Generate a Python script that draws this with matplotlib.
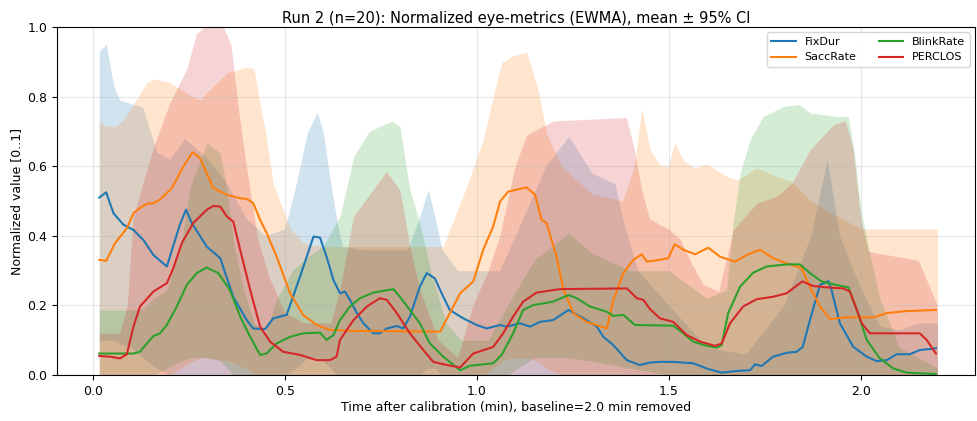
import numpy as np
import matplotlib
matplotlib.use("Agg")
import matplotlib.pyplot as plt

# ---- mean curves (EWMA) ----
fix_t = [0.017, 0.035, 0.054, 0.080, 0.106, 0.132, 0.158, 0.193, 0.227, 0.243, 0.258, 0.297,
         0.332, 0.366, 0.401, 0.418, 0.449, 0.470, 0.505, 0.540, 0.575, 0.592, 0.609, 0.627,
         0.644, 0.657, 0.670, 0.688, 0.705, 0.731, 0.748, 0.766, 0.792, 0.809, 0.826, 0.852,
         0.870, 0.891, 0.913, 0.930, 0.965, 1.000, 1.026, 1.061, 1.078, 1.113, 1.139, 1.165,
         1.199, 1.239, 1.278, 1.313, 1.330, 1.356, 1.391, 1.425, 1.451, 1.477, 1.512, 1.564,
         1.599, 1.638, 1.677, 1.712, 1.725, 1.742, 1.772, 1.807, 1.833, 1.849, 1.868, 1.894,
         1.916, 1.924, 1.946, 1.981, 2.016, 2.042, 2.068, 2.094, 2.128, 2.154, 2.196]
fix_v = [0.510, 0.525, 0.465, 0.432, 0.417, 0.388, 0.345, 0.312, 0.432, 0.475, 0.437, 0.369,
         0.336, 0.225, 0.158, 0.134, 0.132, 0.163, 0.173, 0.283, 0.398, 0.395, 0.340, 0.273,
         0.235, 0.240, 0.216, 0.178, 0.149, 0.120, 0.120, 0.134, 0.141, 0.134, 0.168, 0.254,
         0.293, 0.278, 0.225, 0.187, 0.163, 0.144, 0.134, 0.144, 0.139, 0.149, 0.139, 0.153,
         0.158, 0.187, 0.163, 0.139, 0.110, 0.086, 0.043, 0.029, 0.036, 0.038, 0.038, 0.034,
         0.019, 0.007, 0.012, 0.014, 0.031, 0.026, 0.053, 0.064, 0.067, 0.081, 0.158, 0.259,
         0.270, 0.245, 0.149, 0.081, 0.053, 0.040, 0.043, 0.060, 0.060, 0.072, 0.077]

sacc_t = [0.017, 0.035, 0.058, 0.089, 0.106, 0.123, 0.141, 0.158, 0.175, 0.206, 0.236, 0.260,
          0.279, 0.314, 0.349, 0.384, 0.401, 0.418, 0.436, 0.453, 0.479, 0.514, 0.548, 0.583,
          0.618, 0.679, 0.905, 0.930, 0.957, 0.991, 1.017, 1.043, 1.061, 1.082, 1.130, 1.152,
          1.169, 1.182, 1.208, 1.226, 1.252, 1.286, 1.339, 1.356, 1.382, 1.408, 1.430, 1.443,
          1.477, 1.499, 1.516, 1.538, 1.569, 1.603, 1.634, 1.673, 1.703, 1.738, 1.772, 1.807,
          1.846, 1.868, 1.894, 1.920, 1.964, 2.033, 2.068, 2.120, 2.196]
sacc_v = [0.331, 0.328, 0.379, 0.422, 0.465, 0.480, 0.492, 0.494, 0.504, 0.537, 0.599, 0.640,
          0.624, 0.537, 0.518, 0.508, 0.506, 0.494, 0.446, 0.408, 0.340, 0.235, 0.173, 0.144,
          0.130, 0.127, 0.125, 0.178, 0.235, 0.269, 0.360, 0.427, 0.499, 0.527, 0.539, 0.518,
          0.446, 0.437, 0.340, 0.245, 0.178, 0.153, 0.134, 0.216, 0.293, 0.331, 0.347, 0.326,
          0.331, 0.336, 0.376, 0.360, 0.347, 0.366, 0.340, 0.326, 0.345, 0.360, 0.336, 0.321,
          0.307, 0.254, 0.197, 0.161, 0.166, 0.166, 0.178, 0.184, 0.187]

blink_t = [0.017, 0.106, 0.123, 0.141, 0.158, 0.175, 0.193, 0.219, 0.245, 0.271, 0.297, 0.327,
           0.357, 0.384, 0.410, 0.436, 0.453, 0.479, 0.514, 0.548, 0.592, 0.609, 0.627, 0.644,
           0.670, 0.696, 0.731, 0.783, 0.800, 0.826, 0.852, 0.878, 0.913, 0.957, 0.983, 1.043,
           1.065, 1.095, 1.121, 1.147, 1.199, 1.239, 1.260, 1.295, 1.339, 1.356, 1.382, 1.412,
           1.512, 1.538, 1.564, 1.599, 1.625, 1.638, 1.655, 1.686, 1.720, 1.755, 1.807, 1.842,
           1.868, 1.898, 1.937, 1.968, 1.990, 2.016, 2.050, 2.085, 2.120, 2.196]
blink_v = [0.062, 0.062, 0.067, 0.091, 0.112, 0.120, 0.144, 0.197, 0.259, 0.293, 0.309, 0.293,
           0.245, 0.168, 0.110, 0.058, 0.062, 0.091, 0.110, 0.120, 0.122, 0.101, 0.115, 0.158,
           0.197, 0.221, 0.237, 0.247, 0.225, 0.187, 0.149, 0.091, 0.053, 0.014, 0.027, 0.034,
           0.058, 0.120, 0.187, 0.201, 0.211, 0.230, 0.221, 0.197, 0.182, 0.170, 0.173, 0.144,
           0.142, 0.120, 0.096, 0.084, 0.079, 0.086, 0.178, 0.254, 0.294, 0.312, 0.318, 0.318,
           0.293, 0.269, 0.259, 0.252, 0.187, 0.101, 0.048, 0.019, 0.007, 0.003]

perc_t = [0.017, 0.045, 0.071, 0.089, 0.106, 0.123, 0.158, 0.193, 0.210, 0.232, 0.262, 0.297,
          0.314, 0.332, 0.349, 0.366, 0.384, 0.410, 0.436, 0.462, 0.496, 0.540, 0.583, 0.618,
          0.635, 0.644, 0.679, 0.714, 0.748, 0.766, 0.792, 0.826, 0.861, 0.887, 0.922, 0.957,
          0.991, 1.043, 1.069, 1.095, 1.121, 1.156, 1.217, 1.391, 1.417, 1.434, 1.451, 1.477,
          1.512, 1.547, 1.582, 1.621, 1.638, 1.660, 1.694, 1.729, 1.772, 1.807, 1.848, 1.876,
          1.911, 1.955, 1.972, 2.003, 2.024, 2.154, 2.172, 2.196]
perc_v = [0.055, 0.053, 0.048, 0.060, 0.139, 0.197, 0.240, 0.264, 0.307, 0.379, 0.437, 0.475,
          0.486, 0.484, 0.456, 0.441, 0.360, 0.245, 0.139, 0.096, 0.067, 0.058, 0.043, 0.043,
          0.053, 0.101, 0.158, 0.197, 0.221, 0.216, 0.178, 0.120, 0.072, 0.038, 0.029, 0.022,
          0.062, 0.081, 0.120, 0.168, 0.211, 0.237, 0.247, 0.249, 0.221, 0.216, 0.190, 0.163,
          0.153, 0.115, 0.096, 0.084, 0.091, 0.149, 0.197, 0.218, 0.225, 0.235, 0.269, 0.256,
          0.252, 0.249, 0.240, 0.149, 0.120, 0.120, 0.101, 0.062]

# ---- 95% CI bands (upper / lower) ----
fix_ci_t = [0.017, 0.035, 0.055, 0.07, 0.10, 0.13, 0.167, 0.20, 0.24, 0.30, 0.35, 0.40, 0.45,
            0.50, 0.53, 0.56, 0.585, 0.60, 0.62, 0.635, 0.65, 0.70, 0.75, 0.82, 0.85, 0.874,
            0.89, 0.91, 0.95, 1.00, 1.06, 1.12, 1.18, 1.24, 1.30, 1.36, 1.38, 1.42, 1.50,
            1.60, 1.70, 1.80, 1.87, 1.913, 1.945, 2.00, 2.05, 2.10, 2.15, 2.20]
fix_hi = [0.93, 0.95, 0.83, 0.79, 0.78, 0.77, 0.64, 0.62, 0.68, 0.62, 0.55, 0.45, 0.40,
          0.42, 0.55, 0.70, 0.754, 0.70, 0.55, 0.45, 0.37, 0.36, 0.36, 0.36, 0.45, 0.532,
          0.46, 0.36, 0.30, 0.30, 0.30, 0.45, 0.60, 0.686, 0.58, 0.55, 0.45, 0.30, 0.20,
          0.08, 0.06, 0.20, 0.40, 0.62, 0.40, 0.25, 0.14, 0.13, 0.15, 0.15]
fix_lo = [0.10, 0.10, 0.10, 0.09, 0.08, 0.05, 0.02, 0.00, 0.00, 0.00, 0.00, 0.00, 0.00,
          0.00, 0.02, 0.05, 0.05, 0.04, 0.02, 0.00, 0.00, 0.00, 0.00, 0.00, 0.00, 0.02,
          0.02, 0.00, 0.00, 0.00, 0.00, 0.00, 0.00, 0.00, 0.00, 0.00, 0.00, 0.00, 0.00,
          0.00, 0.00, 0.00, 0.00, 0.00, 0.00, 0.00, 0.00, 0.00, 0.00, 0.00]

sacc_ci_t = [0.017, 0.035, 0.06, 0.08, 0.106, 0.14, 0.158, 0.18, 0.20, 0.23, 0.26, 0.28, 0.30,
             0.35, 0.40, 0.42, 0.435, 0.45, 0.47, 0.515, 0.55, 0.60, 0.90, 0.913, 0.974, 1.017,
             1.043, 1.065, 1.09, 1.13, 1.16, 1.182, 1.22, 1.30, 1.38, 1.41, 1.43, 1.452, 1.477,
             1.499, 1.516, 1.54, 1.569, 1.599, 1.63, 1.66, 1.68, 1.73, 1.78, 1.82, 1.87, 1.95,
             2.00, 2.20]
sacc_hi = [0.73, 0.715, 0.715, 0.734, 0.777, 0.839, 0.851, 0.846, 0.84, 0.82, 0.80, 0.79, 0.815,
           0.868, 0.884, 0.88, 0.782, 0.70, 0.55, 0.42, 0.38, 0.369, 0.369, 0.37, 0.542, 0.676,
           0.80, 0.897, 0.915, 0.928, 0.82, 0.695, 0.60, 0.52, 0.50, 0.60, 0.763, 0.647, 0.604,
           0.60, 0.667, 0.614, 0.595, 0.607, 0.585, 0.566, 0.561, 0.595, 0.571, 0.556, 0.50, 0.45,
           0.42, 0.42]
sacc_lo = [0.00, 0.00, 0.00, 0.00, 0.00, 0.00, 0.00, 0.00, 0.00, 0.02, 0.04, 0.05, 0.05,
           0.04, 0.02, 0.00, 0.00, 0.00, 0.00, 0.00, 0.00, 0.00, 0.00, 0.00, 0.00, 0.00,
           0.02, 0.04, 0.05, 0.05, 0.04, 0.02, 0.00, 0.00, 0.00, 0.00, 0.00, 0.00, 0.00,
           0.00, 0.00, 0.00, 0.00, 0.00, 0.00, 0.00, 0.00, 0.00, 0.00, 0.00, 0.00, 0.00,
           0.00, 0.00]

blink_ci_t = [0.017, 0.10, 0.13, 0.16, 0.193, 0.228, 0.254, 0.298, 0.332, 0.35, 0.367, 0.393,
              0.42, 0.45, 0.48, 0.52, 0.56, 0.60, 0.644, 0.68, 0.72, 0.778, 0.80, 0.826, 0.852,
              0.88, 0.92, 0.96, 1.03, 1.08, 1.15, 1.24, 1.30, 1.40, 1.50, 1.60, 1.651, 1.668,
              1.686, 1.712, 1.746, 1.80, 1.84, 1.868, 1.937, 1.968, 1.985, 2.00, 2.016, 2.05,
              2.10, 2.20]
blink_hi = [0.187, 0.187, 0.19, 0.22, 0.245, 0.36, 0.542, 0.667, 0.638, 0.532, 0.379, 0.245,
            0.15, 0.12, 0.22, 0.30, 0.34, 0.37, 0.456, 0.628, 0.70, 0.729, 0.715, 0.532, 0.437,
            0.30, 0.15, 0.10, 0.10, 0.20, 0.33, 0.408, 0.35, 0.30, 0.30, 0.22, 0.245, 0.437,
            0.58, 0.676, 0.743, 0.772, 0.777, 0.753, 0.743, 0.742, 0.628, 0.484, 0.388, 0.22,
            0.08, 0.02]
blink_lo = [0.00, 0.00, 0.00, 0.00, 0.02, 0.04, 0.05, 0.05, 0.04, 0.02, 0.00, 0.00,
            0.00, 0.00, 0.00, 0.00, 0.00, 0.00, 0.00, 0.00, 0.00, 0.00, 0.00, 0.00, 0.00,
            0.00, 0.00, 0.00, 0.00, 0.00, 0.05, 0.05, 0.04, 0.02, 0.00, 0.00, 0.00, 0.00,
            0.00, 0.00, 0.00, 0.00, 0.00, 0.00, 0.00, 0.00, 0.00, 0.00, 0.00, 0.00,
            0.00, 0.00]

perc_ci_t = [0.017, 0.07, 0.09, 0.105, 0.13, 0.16, 0.20, 0.245, 0.27, 0.29, 0.34, 0.36, 0.38,
             0.40, 0.43, 0.46, 0.50, 0.55, 0.62, 0.644, 0.679, 0.765, 0.80, 0.826, 0.852, 0.90,
             0.95, 0.99, 1.03, 1.06, 1.10, 1.13, 1.20, 1.39, 1.41, 1.43, 1.45, 1.48, 1.50, 1.53,
             1.56, 1.59, 1.63, 1.668, 1.73, 1.78, 1.82, 1.87, 1.93, 1.96, 1.98, 2.00, 2.02,
             2.15, 2.20]
perc_hi = [0.12, 0.12, 0.20, 0.45, 0.55, 0.66, 0.78, 0.88, 0.98, 1.00, 1.00, 0.95, 0.76,
           0.60, 0.39, 0.28, 0.18, 0.15, 0.15, 0.245, 0.456, 0.585, 0.532, 0.37, 0.245, 0.10,
           0.05, 0.20, 0.30, 0.40, 0.60, 0.69, 0.73, 0.74, 0.65, 0.53, 0.45, 0.43, 0.42, 0.39,
           0.32, 0.26, 0.24, 0.417, 0.494, 0.513, 0.55, 0.65, 0.72, 0.73, 0.65, 0.45, 0.355,
           0.33, 0.20]
perc_lo = [0.0] * len(perc_ci_t)

series = [
    ("FixDur", "tab:blue", fix_t, fix_v, fix_ci_t, fix_lo, fix_hi),
    ("SaccRate", "tab:orange", sacc_t, sacc_v, sacc_ci_t, sacc_lo, sacc_hi),
    ("BlinkRate", "tab:green", blink_t, blink_v, blink_ci_t, blink_lo, blink_hi),
    ("PERCLOS", "tab:red", perc_t, perc_v, perc_ci_t, perc_lo, perc_hi),
]

fig = plt.figure(figsize=(9.78, 4.21), dpi=100)
ax = fig.add_axes([0.0583, 0.109, 0.9387, 0.827])

for name, col, t, v, ct, lo, hi in series:
    ax.fill_between(ct, lo, hi, color=col, alpha=0.2, linewidth=0)
for name, col, t, v, ct, lo, hi in series:
    ax.plot(t, v, color=col, lw=1.5, label=name)

ax.set_xlim(-0.093, 2.298)
ax.set_ylim(0, 1)
ax.set_xticks([0.0, 0.5, 1.0, 1.5, 2.0])
ax.set_yticks([0.0, 0.2, 0.4, 0.6, 0.8, 1.0])
ax.tick_params(labelsize=9)
ax.grid(True, alpha=0.3)
ax.set_xlabel("Time after calibration (min), baseline=2.0 min removed", fontsize=9, labelpad=2)
ax.set_ylabel("Normalized value [0..1]", fontsize=9, labelpad=3)
ax.set_title("Run 2 (n=20): Normalized eye-metrics (EWMA), mean ± 95% CI", fontsize=10.5, pad=3)
ax.legend(loc="upper right", ncol=2, fontsize=8, frameon=True, handlelength=2.2,
          columnspacing=2.0, borderaxespad=0.5)

fig.savefig("out.png", dpi=100)
